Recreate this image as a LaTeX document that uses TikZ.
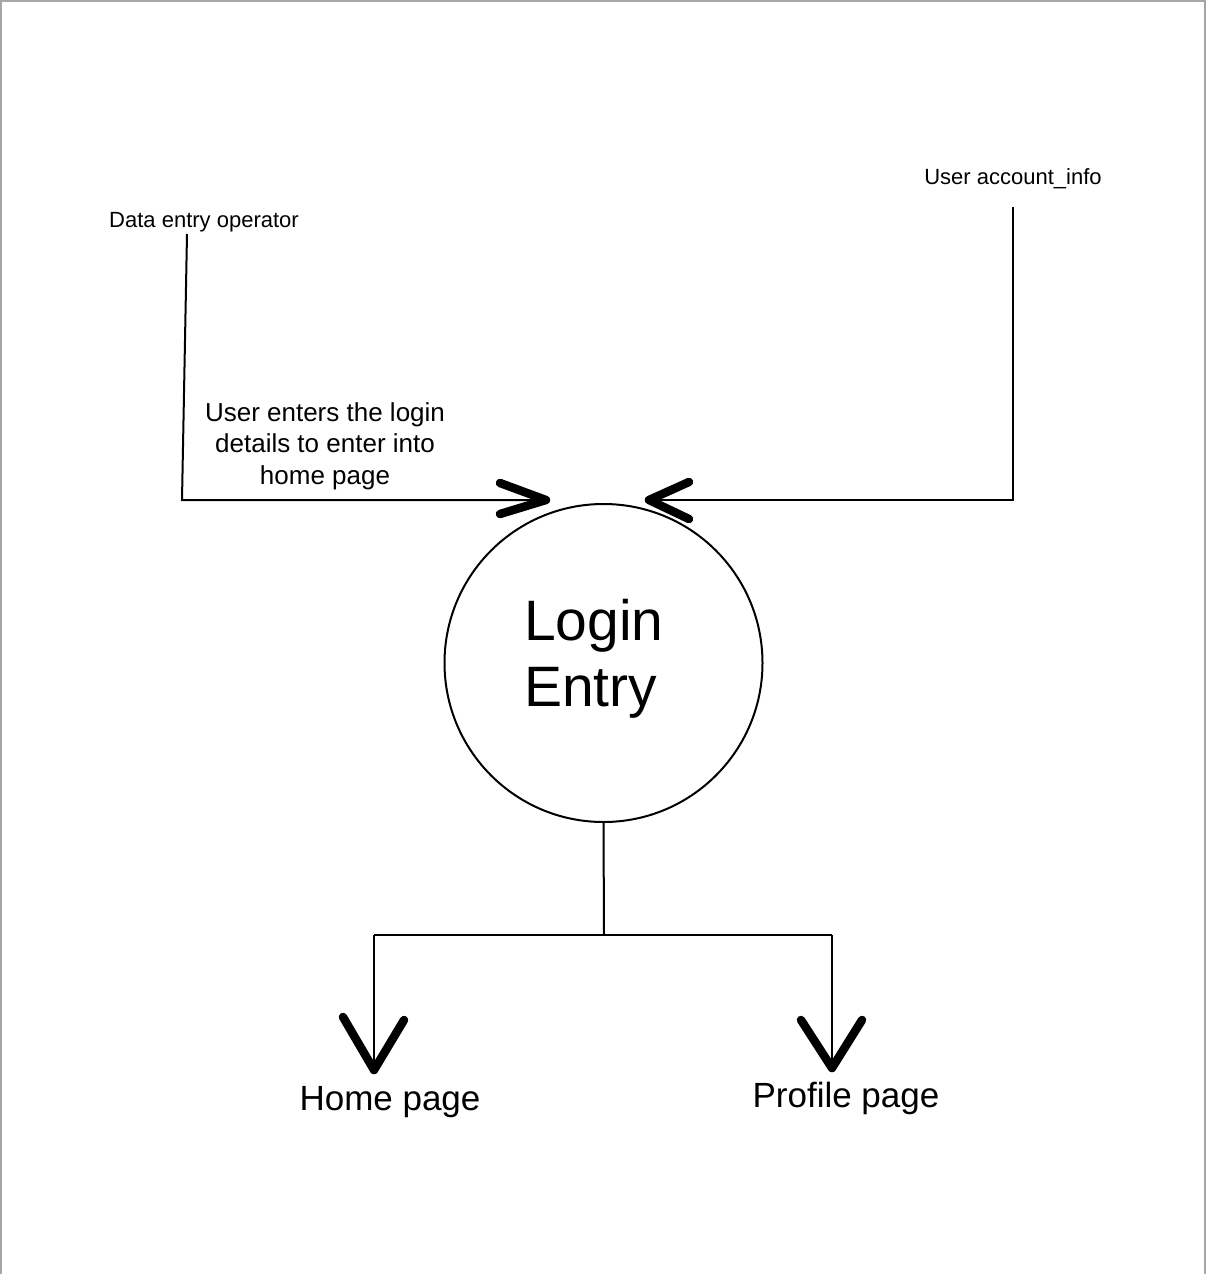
\documentclass[tikz,border=0pt]{standalone}
\usepackage{fontspec}
\setmainfont{Liberation Sans}
\begin{document}
\begin{tikzpicture}[x=1pt,y=-1pt,
  flow/.style={line width=2pt},
  chevron/.style={line width=8.5pt,line cap=round,line join=round},
  lbl/.style={inner sep=0pt,anchor=base}]
\useasboundingbox (0,0) rectangle (1206,1274);
% page frame
\draw[black!35, line width=2pt] (1,1274) -- (1,1) -- (1205,1) -- (1205,1274);

% process bubble
\node[circle, draw, line width=2pt, minimum size=318pt, inner sep=0pt] (proc) at (603.5,663) {};
\node[inner sep=0pt, anchor=base west, align=left,
      font=\fontsize{57}{66}\selectfont] (proclbl) at (524,706) {Login\\Entry};

% external entities and data store
\node[lbl, font=\fontsize{22}{26}\selectfont] (op) at (204,227) {Data entry operator};
\node[lbl, font=\fontsize{22}{26}\selectfont] (store) at (1013,184) {User account\_info};

% flow labels
\node[lbl, align=center, font=\fontsize{26}{31.5}\selectfont] (flowlbl) at (325,484)
  {User enters the login\\details to enter into\\home page};
\node[lbl, font=\fontsize{35}{40}\selectfont] (home) at (390,1110) {Home page};
\node[lbl, font=\fontsize{35}{40}\selectfont] (profile) at (846,1107) {Profile page};

% connector points
\coordinate (opTop) at (187,234);
\coordinate (opFoot) at (182,500);
\coordinate (inL) at (546,500);
\coordinate (storeTop) at (1013,207);
\coordinate (storeFoot) at (1013,500);
\coordinate (inR) at (649,500);
\coordinate (split) at (604,935);
\coordinate (brL) at (374,935);
\coordinate (brR) at (832,935);
\coordinate (outL) at (374,1070);
\coordinate (outR) at (832,1068);

% incoming flows
\draw[flow] (opTop) -- (opFoot) -- (inL);
\draw[chevron] ([shift={(-46,-17)}]inL) -- (inL) -- ([shift={(-46,14)}]inL);
\draw[flow] (storeTop) -- (storeFoot) -- (inR);
\draw[chevron] ([shift={(40,-18)}]inR) -- (inR) -- ([shift={(40,19)}]inR);

% outgoing flows
\draw[flow] (proc.south) -- (split);
\draw[flow] (brL) -- (brR);
\draw[flow] (brL) -- (outL);
\draw[flow] (brR) -- (outR);
\draw[chevron] ([shift={(-31,-53)}]outL) -- (outL) -- ([shift={(30,-50)}]outL);
\draw[chevron] ([shift={(-31,-48)}]outR) -- (outR) -- ([shift={(30,-48)}]outR);
\end{tikzpicture}
\end{document}
